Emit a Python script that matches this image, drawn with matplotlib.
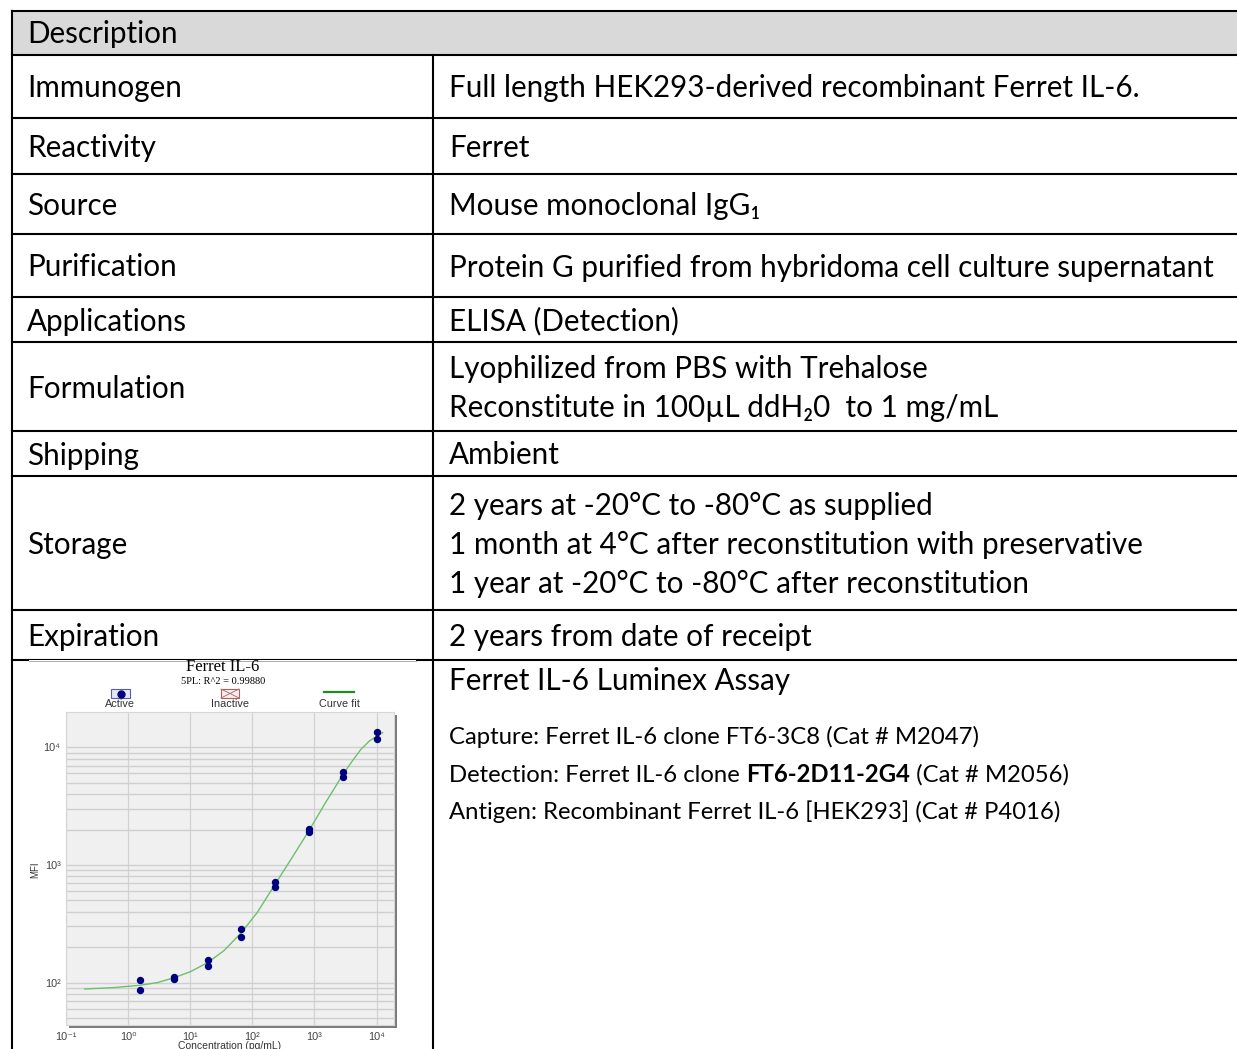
import numpy as np
import matplotlib.pyplot as plt
from matplotlib.patches import Rectangle
from matplotlib.ticker import LogLocator, FixedLocator, FixedFormatter, NullFormatter

W, H = 1237, 1049

# table content
header = 'Description'
row_labels = ['Immunogen', 'Reactivity', 'Source', 'Purification', 'Applications',
              'Formulation', 'Shipping', 'Storage', 'Expiration']
row_values = [
    ['Full length HEK293-derived recombinant Ferret IL-6.'],
    ['Ferret'],
    ['Mouse monoclonal IgG\u2081'],
    ['Protein G purified from hybridoma cell culture supernatant'],
    ['ELISA (Detection)'],
    ['Lyophilized from PBS with Trehalose',
     'Reconstitute in 100\u00b5L ddH\u20820  to 1 mg/mL'],
    ['Ambient'],
    ['2 years at -20\u00b0C to -80\u00b0C as supplied',
     '1 month at 4\u00b0C after reconstitution with preservative',
     '1 year at -20\u00b0C to -80\u00b0C after reconstitution'],
    ['2 years from date of receipt'],
]
assay_title = 'Ferret IL-6 Luminex Assay'
capture_line = 'Capture: Ferret IL-6 clone FT6-3C8 (Cat # M2047)'
detection_parts = ['Detection: Ferret IL-6 clone ', 'FT6-2D11-2G4', ' (Cat # M2056)']
antigen_line = 'Antigen: Recombinant Ferret IL-6 [HEK293] (Cat # P4016)'

# standard curve
conc = [1.54, 5.46, 19.1, 66.5, 232, 820, 2866, 10000]
mfi_rep1 = [105, 112, 156, 283, 718, 2033, 6141, 13490]
mfi_rep2 = [87.4, 107, 139, 245, 652, 1893, 5570, 11840]
fit_x = [0.200, 0.587, 1.54, 2.94, 5.46, 10.1, 19.1, 34.9, 66.5, 120, 232,
         415, 820, 1523, 2866, 4102, 5585, 7620, 10000, 12500]
fit_y = [88.3, 90.8, 94.9, 100, 110, 124, 148, 187, 266, 395, 685,
         1109, 1968, 3420, 5860, 7710, 9600, 11300, 12400, 13310]
x_ticks = [0.1, 1, 10, 100, 1000, 10000]
x_tick_labels = ['10\u207b\u00b9', '10\u2070', '10\u00b9', '10\u00b2', '10\u00b3', '10\u2074']
y_ticks = [100, 1000, 10000]
y_tick_labels = ['10\u00b2', '10\u00b3', '10\u2074']

# layout (pixels)
row_edges = [55, 118, 174, 234, 297, 342, 431, 476, 610, 660]
x_left, x_div, top = 12, 433, 11
line_gap = 39
FONT = ['Lato', 'DejaVu Sans']
FS = 21.3
FS_SMALL = 17.2

fig = plt.figure(figsize=(W / 100, H / 100), dpi=100)
ax = fig.add_axes([0, 0, 1, 1])
ax.set_xlim(0, W)
ax.set_ylim(H, 0)
ax.axis('off')

lw = 1.5
ax.add_patch(Rectangle((x_left, top), W - x_left, row_edges[0] - top,
                       facecolor='#d9d9d9', edgecolor='none'))
ax.plot([x_left, W], [top, top], color='black', lw=lw)
ax.plot([x_left, x_left], [top, H], color='black', lw=lw)
ax.plot([x_div, x_div], [row_edges[0], H], color='black', lw=lw)
for y in row_edges:
    ax.plot([x_left, W], [y, y], color='black', lw=lw)

ax.text(27, (top + row_edges[0]) / 2 + 1, header, fontsize=FS, family=FONT,
        va='center', ha='left')
for i, (lab, vals) in enumerate(zip(row_labels, row_values)):
    yc = (row_edges[i] + row_edges[i + 1]) / 2 + 2
    ax.text(27, yc, lab, fontsize=FS, family=FONT, va='center', ha='left')
    n = len(vals)
    for j, v in enumerate(vals):
        ax.text(449, yc + (j - (n - 1) / 2) * line_gap, v, fontsize=FS,
                family=FONT, va='center', ha='left')

# last row, right cell
ax.text(449, 681, assay_title, fontsize=FS, family=FONT, va='center', ha='left')
ax.text(449, 737, capture_line, fontsize=FS_SMALL, family=FONT, va='center', ha='left')
t0 = ax.text(449, 775, detection_parts[0], fontsize=FS_SMALL, family=FONT,
             va='center', ha='left')
t1 = ax.annotate(detection_parts[1], xy=(1, 0), xycoords=t0, fontsize=FS_SMALL,
                 family=FONT, fontweight='bold', va='bottom', ha='left')
ax.annotate(detection_parts[2], xy=(1, 0), xycoords=t1, fontsize=FS_SMALL,
            family=FONT, va='bottom', ha='left')
ax.text(449, 812, antigen_line, fontsize=FS_SMALL, family=FONT, va='center', ha='left')

# embedded chart: white image area and its header
ax.add_patch(Rectangle((29, 660), 387, H - 660, facecolor='white',
                       edgecolor='none', zorder=2))
ax.plot([29, 416], [660.5, 660.5], color='#888888', lw=0.5, zorder=3)
serif = ['Liberation Serif', 'DejaVu Serif']
sans = ['Liberation Sans', 'DejaVu Sans']
ax.text(223, 667, 'Ferret IL-6', fontsize=12, family=serif, ha='center',
        va='center', zorder=3)
ax.text(223, 681, '5PL: R^2 = 0.99880', fontsize=7.5, family=serif,
        ha='center', va='center', zorder=3)
ax.add_patch(Rectangle((111, 689), 19, 9, facecolor='#e6e6fa',
                       edgecolor='#5a5ab4', lw=0.8, zorder=3))
ax.plot([121], [693.5], 'o', color='#00007f', ms=5, zorder=4)
ax.add_patch(Rectangle((221, 689), 18, 9, facecolor='#fbf0f0',
                       edgecolor='#b06060', lw=0.8, zorder=3))
ax.plot([221, 239], [689, 698], color='#b06060', lw=0.6, zorder=4)
ax.plot([221, 239], [698, 689], color='#b06060', lw=0.6, zorder=4)
ax.plot([324, 354], [692, 692], color='#1e8c1e', lw=1.6, zorder=4)
for xl, lab in [(120, 'Active'), (230, 'Inactive'), (339, 'Curve fit')]:
    ax.text(xl, 704, lab, fontsize=7.8, family=sans, color='#333333',
            ha='center', va='center', zorder=3)
ax.text(35, 870, 'MFI', fontsize=7, family=sans, color='#333333',
        rotation=90, ha='center', va='center', zorder=3)
ax.text(230, 1046, 'Concentration (pg/mL)', fontsize=7.5, family=sans,
        color='#333333', ha='center', va='center', zorder=3)

# plot shadow
px0, px1, py0, py1 = 66, 394, 712, 1025
ax.add_patch(Rectangle((px0 + 3, py0 + 3), px1 - px0, py1 - py0,
                       facecolor='#7a7a7a', edgecolor='none', zorder=3))

cax = fig.add_axes([px0 / W, 1 - py1 / H, (px1 - px0) / W, (py1 - py0) / H])
cax.set_facecolor('#f0f0f0')
cax.set_xscale('log')
cax.set_yscale('log')
cax.set_xlim(0.1, 10 ** 4.28)
cax.set_ylim(10 ** 1.64, 10 ** 4.30)
cax.xaxis.set_major_locator(FixedLocator(x_ticks))
cax.xaxis.set_major_formatter(FixedFormatter(x_tick_labels))
cax.xaxis.set_minor_locator(FixedLocator([]))
cax.yaxis.set_major_locator(FixedLocator(y_ticks))
cax.yaxis.set_major_formatter(FixedFormatter(y_tick_labels))
cax.yaxis.set_minor_locator(LogLocator(base=10, subs=np.arange(2, 10)))
cax.yaxis.set_minor_formatter(NullFormatter())
cax.grid(True, axis='x', which='major', color='#d2d2d2', lw=0.9)
cax.grid(True, axis='y', which='both', color='#cfcfcf', lw=1.0)
cax.set_axisbelow(True)
cax.tick_params(which='both', length=0, labelsize=7.8, labelcolor='#444444')
cax.tick_params(axis='x', pad=5)
cax.tick_params(axis='y', pad=4)
for lab in cax.get_xticklabels() + cax.get_yticklabels():
    lab.set_family(sans)
for s in cax.spines.values():
    s.set_color('#d6d6d6')
    s.set_linewidth(0.8)

cax.plot(fit_x, fit_y, color='#6cc06c', lw=1.0, zorder=3)
cax.plot(conc, mfi_rep1, 'o', color='#00007f', ms=4.3, zorder=4)
cax.plot(conc, mfi_rep2, 'o', color='#00007f', ms=4.3, zorder=4)

fig.savefig('out.png', dpi=100)
